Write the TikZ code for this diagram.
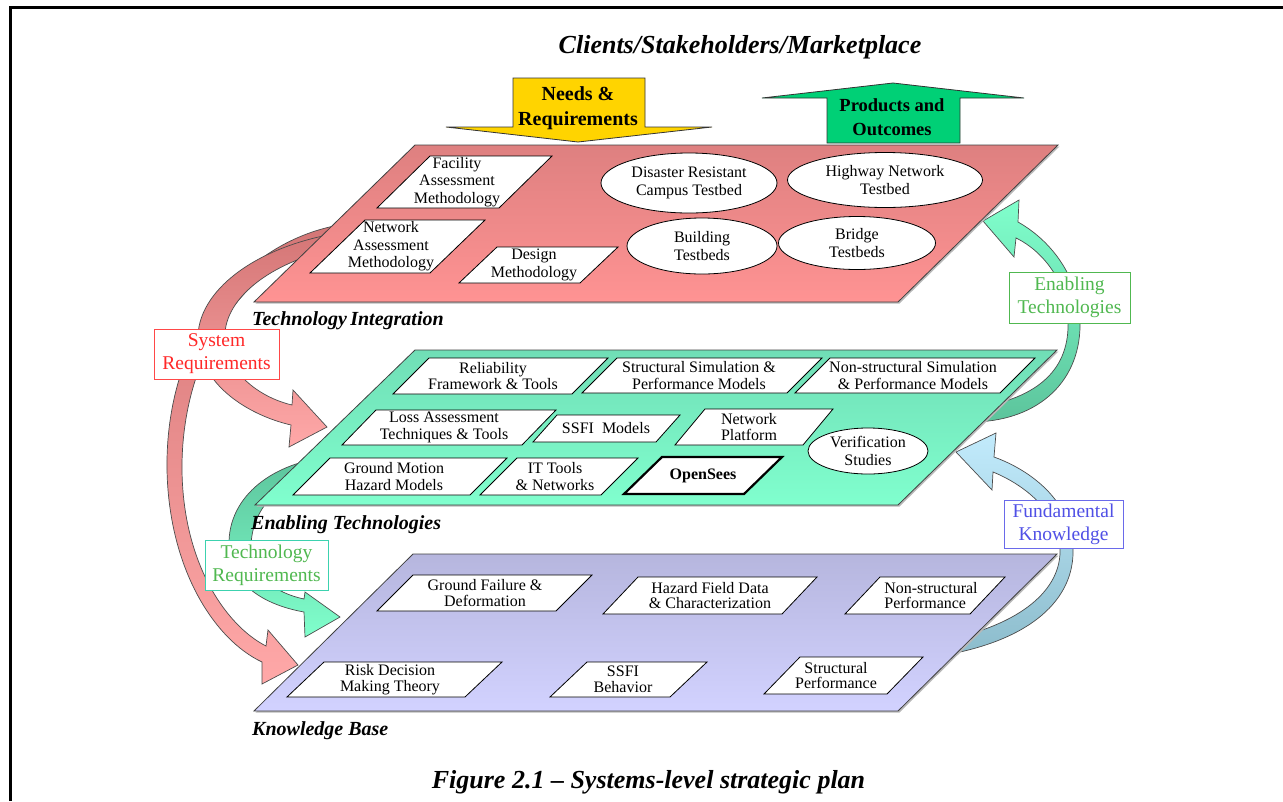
\documentclass[tikz,border=0pt]{standalone}
\usepackage{fontspec}
\setmainfont{Liberation Serif}
\usetikzlibrary{shapes.geometric}

% plane colours
\definecolor{tiTop}{RGB}{222,128,128}
\definecolor{tiBot}{RGB}{255,147,147}
\definecolor{etTop}{RGB}{112,222,182}
\definecolor{etBot}{RGB}{128,255,206}
\definecolor{kbTop}{RGB}{182,182,222}
\definecolor{kbBot}{RGB}{210,210,255}
% ribbon arrows
\definecolor{redA}{RGB}{212,118,118}
\definecolor{redB}{RGB}{255,168,168}
\definecolor{grnA}{RGB}{92,196,156}
\definecolor{grnB}{RGB}{128,255,204}
\definecolor{bluA}{RGB}{194,235,252}
\definecolor{bluB}{RGB}{140,188,204}
% block arrows
\definecolor{needs}{RGB}{255,212,0}
\definecolor{prods}{RGB}{0,208,118}
% side labels
\definecolor{srRed}{RGB}{255,40,40}
\definecolor{etGrn}{RGB}{80,184,80}
\definecolor{fkBlu}{RGB}{80,80,230}
\definecolor{trBord}{RGB}{60,210,175}

\tikzset{
  plane/.style={draw=black!75, line width=0.8pt},
  planeshadow/.style={fill=black!28},
  itembox/.style={draw=black, line width=0.8pt, fill=white},
  itemtext/.style={align=center, inner sep=0pt, font=\fontsize{16}{17}\selectfont},
  testbed/.style={ellipse, draw=black, line width=0.8pt, fill=white, inner sep=0pt,
    align=center, font=\fontsize{16}{18}\selectfont},
  ribbon/.style={draw=black!70, line width=0.7pt},
  blockarrow/.style={draw=black!80, line width=0.8pt},
  planelabel/.style={anchor=base west, inner sep=0pt, font=\fontsize{20}{24}\selectfont\bfseries\itshape},
  sidelabel/.style={fill=white, line width=1pt, align=center, inner sep=0pt,
    font=\fontsize{19.5}{23}\selectfont},
  arrowtext/.style={align=center, inner sep=0pt, font=\bfseries},
}

% white parallelogram with its text:
% [#1 extra style], #2 name, #3 top-left x, #4 top-right x, #5 top y,
% #6 bottom-left x, #7 bottom y, #8 text centre x, #9 text
\newcommand\itempg[9][]{%
  \draw[itembox,#1] (#3,#5) -- (#4,#5) -- ({#4-#3+#6},#7) -- (#6,#7) -- cycle;
  \node[itemtext,#1] (#2) at (#8,{(#5+#7)/2}) {#9};}

\begin{document}
\begin{tikzpicture}[x=1pt,y=-1pt]
\useasboundingbox (0,0) rectangle (1283,801);

% page frame
\draw[line width=3pt] (10.5,801) -- (10.5,7.5) -- (1283,7.5);

% heading
\node[anchor=base, inner sep=0pt, font=\fontsize{26}{30}\selectfont\bfseries\itshape]
  (market) at (740,53) {Clients/Stakeholders/Marketplace};

% needs going down, products going up
\draw[blockarrow, fill=needs] (513,78) -- (645,78) -- (645,127) -- (712,127) -- (578,142)
  -- (446,127) -- (513,127) -- cycle;
\node[arrowtext, font=\fontsize{20}{25}\selectfont\bfseries] (needs) at (578,108) {Needs \&\\Requirements};
\draw[blockarrow, fill=prods] (827,143) -- (960,143) -- (960,98) -- (1024,98) -- (893,83)
  -- (762,98) -- (827,98) -- cycle;
\node[arrowtext, font=\fontsize{18.5}{24}\selectfont\bfseries] (prods) at (892,117) {Products and\\Outcomes};

% ribbon: technology integration -> knowledge base
\draw[ribbon, top color=redA, bottom color=redB]
  (345,224) .. controls (240,240) and (165,340) .. (167,470)
  .. controls (169,570) and (215,640) .. (262,662)
  -- (262,684) -- (298,665) -- (268,630) -- (266,646)
  .. controls (225,625) and (183,562) .. (182,470)
  .. controls (181,355) and (245,255) .. (345,238) -- cycle;
% ribbon: technology integration -> enabling technologies
\draw[ribbon, top color=redA, bottom color=redB]
  (345,232) .. controls (255,245) and (196,292) .. (198,340)
  .. controls (201,385) and (248,415) .. (291,425)
  -- (289,447) -- (327,427) -- (293,390) -- (292,405)
  .. controls (262,398) and (228,375) .. (225,340)
  .. controls (222,302) and (265,262) .. (345,246) -- cycle;
% ribbon: enabling technologies -> knowledge base
\draw[ribbon, top color=grnA, bottom color=grnB]
  (330,457) .. controls (275,462) and (228,495) .. (229,545)
  .. controls (230,585) and (265,605) .. (304,612)
  -- (305,637) -- (340,617) -- (305,592) -- (304,599)
  .. controls (275,593) and (252,575) .. (251,550)
  .. controls (250,505) and (285,476) .. (330,470) -- cycle;
% ribbon: enabling technologies -> technology integration
\draw[ribbon, top color=grnB, bottom color=grnA]
  (975,422) .. controls (1040,420) and (1082,380) .. (1080,320)
  .. controls (1078,275) and (1050,240) .. (1018,222)
  -- (1019,200) -- (983,221) -- (1014,257) -- (1016,238)
  .. controls (1045,252) and (1068,285) .. (1068,320)
  .. controls (1070,368) and (1040,398) .. (975,408) -- cycle;
% ribbon: knowledge base -> enabling technologies
\draw[ribbon, top color=bluA, bottom color=bluB]
  (945,655) .. controls (1030,640) and (1075,600) .. (1073,548)
  .. controls (1071,500) and (1030,470) .. (994,457)
  -- (996,433) -- (956,452) -- (992,490) -- (993,472)
  .. controls (1025,485) and (1058,512) .. (1060,548)
  .. controls (1062,590) and (1020,625) .. (945,640) -- cycle;

% the three planes
\fill[planeshadow] (416.5,146.5) -- (1059.5,146.5) -- (899.5,303.5) -- (255.5,303.5) -- cycle;
\draw[plane, top color=tiTop, bottom color=tiBot]
  (415,145) -- (1058,145) -- (898,302) -- (254,302) -- cycle;
\fill[planeshadow] (416.5,351.5) -- (1058.5,351.5) -- (899.5,506.5) -- (256.5,506.5) -- cycle;
\draw[plane, top color=etTop, bottom color=etBot]
  (415,350) -- (1057,350) -- (898,505) -- (255,505) -- cycle;
\fill[planeshadow] (414.5,555.5) -- (1058.5,555.5) -- (899.5,712.5) -- (255.5,712.5) -- cycle;
\draw[plane, top color=kbTop, bottom color=kbBot]
  (413,554) -- (1057,554) -- (898,711) -- (254,711) -- cycle;

% technology integration
\begin{scope}[itemtext/.style={align=center, inner sep=0pt, font=\fontsize{16}{17.5}\selectfont}]
\itempg{fam}{430}{552}{156}{377}{208}{457}{Facility\\Assessment\\Methodology}
\itempg{nam}{365}{485}{220}{310}{273}{391}{Network\\Assessment\\Methodology}
\itempg{desm}{497}{618}{247}{459}{283}{534}{Design\\Methodology}
\end{scope}
\node[testbed, minimum width=176pt, minimum height=60pt] (campus) at (689,183)
  {Disaster Resistant\\Campus Testbed};
\node[testbed, minimum width=195pt, minimum height=55pt] (highway) at (885,180)
  {Highway Network\\Testbed};
\node[testbed, minimum width=150pt, minimum height=56pt] (bldg) at (702,246)
  {Building\\Testbeds};
\node[testbed, minimum width=157pt, minimum height=53pt] (bridge) at (857,243)
  {Bridge\\Testbeds};
\node[planelabel] (tilabel) at (252,325) {Technology\,Integration};

% enabling technologies
\begin{scope}[itemtext/.style={align=center, inner sep=0pt, font=\fontsize{16}{16.5}\selectfont}]
\itempg{rel}{429}{608}{358}{393}{394}{493}{Reliability\\Framework \& Tools}
\itempg{ssim}{617}{822}{358}{582}{393}{699}{Structural Simulation \&\\Performance Models}
\itempg{nssim}{830}{1035}{358}{795}{393}{913}{Non-structural Simulation\\\& Performance Models}
\itempg{loss}{376}{556}{410}{342}{445}{444}{Loss Assessment\\Techniques \& Tools}
\itempg{ssfim}{557}{680}{415}{533}{442}{606}{SSFI\ \ Models}
\itempg{netp}{705}{833}{409}{675}{445}{749}{Network\\Platform}
\itempg{gm}{330}{507}{458}{293}{495}{394}{Ground Motion\\Hazard Models}
\itempg{itt}{517}{638}{458}{480}{495}{555}{IT Tools\\\& Networks}
\itempg[line width=2.2pt]{osees}{662}{782}{457}{624}{494}{703}{\bfseries OpenSees}
\end{scope}
\node[testbed, minimum width=120pt, minimum height=46pt] (verif) at (868,451)
  {Verification\\Studies};
\node[planelabel] (etlabel) at (251,529) {Enabling Technologies};

% knowledge base
\begin{scope}[itemtext/.style={align=center, inner sep=0pt, font=\fontsize{16}{15.5}\selectfont}]
\itempg{gf}{413}{592}{575}{377}{611}{485}{Ground Failure \&\\Deformation}
\itempg{hfd}{638}{817}{577}{603}{614}{710}{Hazard Field Data\\\& Characterization}
\itempg[align=left]{nsp}{880}{1005}{577}{845}{614}{931}{Non-structural\\Performance}
\itempg{rdm}{324}{502}{662}{287}{697}{390}{Risk Decision\\Making Theory}
\itempg{ssfib}{587}{707}{662}{550}{697}{623}{SSFI\\Behavior}
\itempg{spf}{800}{923}{657}{764}{694}{836}{Structural\\Performance}
\end{scope}
\node[planelabel] (kblabel) at (252,735) {Knowledge Base};

% ribbon captions
\node[sidelabel, draw=srRed!85, text=srRed, minimum width=125pt, minimum height=50pt]
  (sysreq) at (216.5,354) {System\\Requirements};
\node[sidelabel, draw=etGrn, text=etGrn, minimum width=121pt, minimum height=51pt]
  (enabtech) at (1069.5,297.5) {Enabling\\Technologies};
\node[sidelabel, draw=fkBlu!85, text=fkBlu, minimum width=119pt, minimum height=48pt]
  (fundknow) at (1063.5,524) {Fundamental\\Knowledge};
\node[sidelabel, draw=trBord, text=etGrn, minimum width=123pt, minimum height=50pt]
  (techreq) at (266.5,565) {Technology\\Requirements};

% caption
\node[anchor=base, inner sep=0pt, font=\fontsize{26}{30}\selectfont\bfseries\itshape]
  (caption) at (648.5,788) {Figure 2.1 -- Systems-level strategic plan};
\end{tikzpicture}
\end{document}
